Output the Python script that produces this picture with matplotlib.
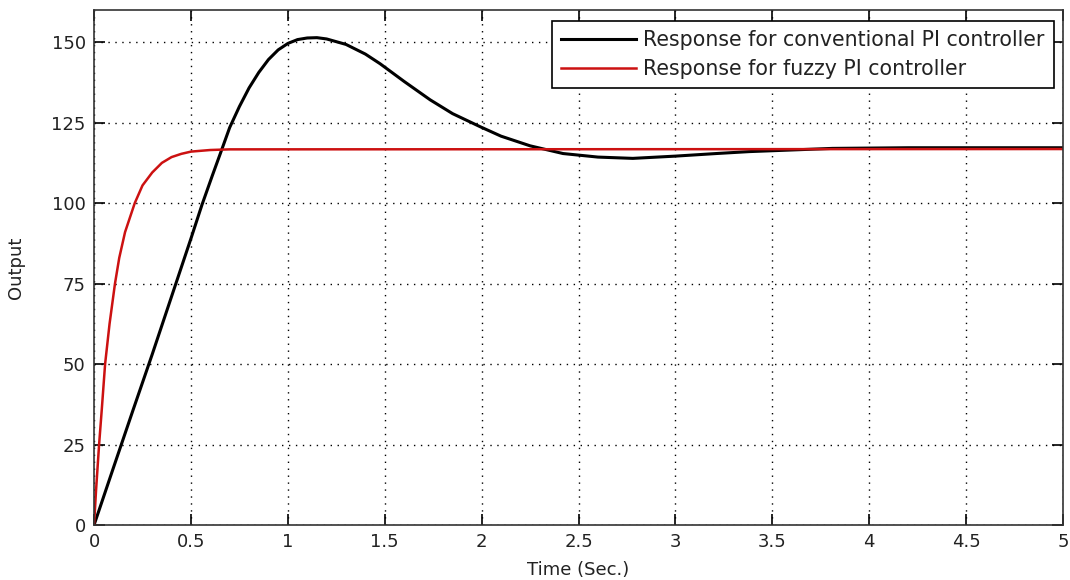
import numpy as np
import matplotlib
matplotlib.use('Agg')
import matplotlib.pyplot as plt

# Values
t_conv = [0.00, 0.10, 0.20, 0.30, 0.40, 0.50, 0.557, 0.61, 0.66,
          0.70, 0.75, 0.80, 0.85, 0.90, 0.95, 1.00, 1.05, 1.10, 1.15, 1.20, 1.30, 1.40,
          1.476, 1.60, 1.734, 1.85, 1.99, 2.10, 2.25, 2.42, 2.60, 2.78, 3.00, 3.21,
          3.38, 3.64, 3.81, 4.20, 5.00]
y_conv = [0.0, 17.8, 35.5, 53.0, 71.0, 89.0, 99.5, 108.5, 116.8,
          123.5, 130.0, 135.8, 140.6, 144.6, 147.6, 149.6, 150.8, 151.3, 151.4, 151.0,
          149.3, 146.3, 143.3, 137.8, 132.1, 127.8, 123.8, 120.8, 117.8, 115.4, 114.3,
          113.9, 114.6, 115.4, 116.0, 116.6, 117.0, 117.2, 117.2]

t_fuzzy = [0.00, 0.01, 0.026, 0.04, 0.057, 0.08, 0.108, 0.13, 0.16, 0.21, 0.25, 0.30,
           0.35, 0.40, 0.45, 0.50, 0.60, 0.70, 5.00]
y_fuzzy = [0.0, 10.5, 25.0, 36.0, 50.0, 62.5, 75.0, 83.0, 91.0, 100.0, 105.5, 109.5,
           112.5, 114.3, 115.3, 116.0, 116.5, 116.7, 116.8]

x_ticks = [0, 0.5, 1, 1.5, 2, 2.5, 3, 3.5, 4, 4.5, 5]
x_ticklabels = ['0', '0.5', '1', '1.5', '2', '2.5', '3', '3.5', '4', '4.5', '5']
y_ticks = [0, 25, 50, 75, 100, 125, 150]

plt.rcParams['font.family'] = ['DejaVu Sans']
fs = 13

fig = plt.figure(figsize=(10.7, 5.8), dpi=100)
ax = fig.add_axes([0.0879, 0.0948, 0.9056, 0.888])

ax.plot(t_conv, y_conv, color='black', linewidth=2.2,
        label='Response for conventional PI controller')
ax.plot(t_fuzzy, y_fuzzy, color='#cc1111', linewidth=1.8,
        label='Response for fuzzy PI controller')

ax.set_xlim(0, 5)
ax.set_ylim(0, 160)
ax.set_xticks(x_ticks)
ax.set_xticklabels(x_ticklabels)
ax.set_yticks(y_ticks)
ax.tick_params(direction='in', length=8, width=1.2, top=True, right=True,
               labelsize=fs, labelcolor='#222222', pad=6)
for s in ax.spines.values():
    s.set_linewidth(1.2)
    s.set_color('#333333')
ax.grid(True, linestyle=(0, (1, 4)), color='black', linewidth=1.0)

ax.set_xlabel('Time (Sec.)', fontsize=fs, color='#222222', labelpad=7)
ax.set_ylabel('Output', fontsize=fs, color='#222222', labelpad=19)

leg = ax.legend(loc='upper right', bbox_to_anchor=(0.9907, 0.9786), borderaxespad=0,
                prop={'size': 14.8}, frameon=True, fancybox=False, edgecolor='black',
                handlelength=3.65, handletextpad=0.34, borderpad=0.45, labelspacing=0.42)
leg.get_frame().set_linewidth(1.2)
leg.get_frame().set_alpha(1)
for txt in leg.get_texts():
    txt.set_color('#222222')

fig.savefig('out.png', dpi=100)
